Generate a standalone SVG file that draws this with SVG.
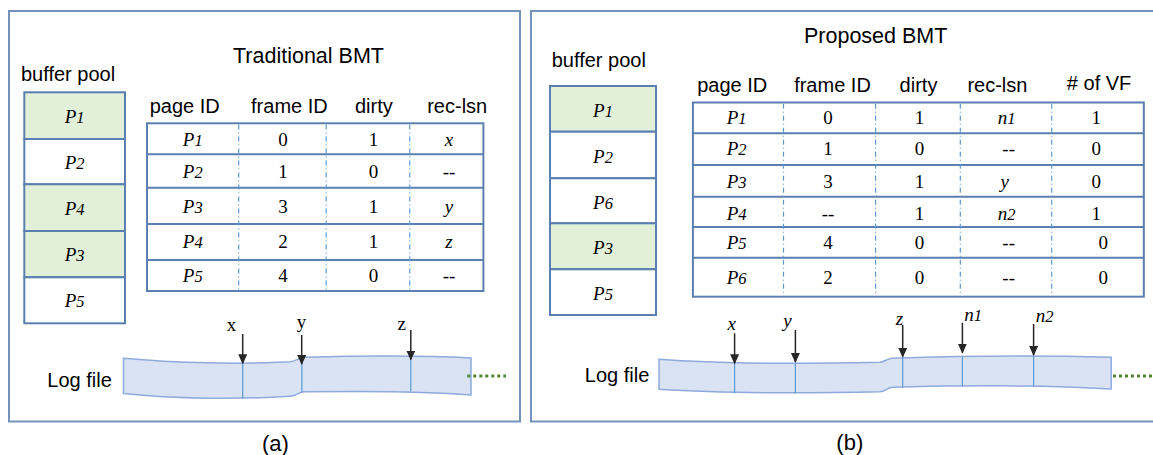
<svg xmlns="http://www.w3.org/2000/svg" width="1153" height="455" viewBox="0 0 1153 455">
<style>
.frame{fill:#fff;stroke:#7393bd;stroke-width:2}
.sans{font-family:"Liberation Sans",Arial,sans-serif;font-size:20px;fill:#000}
.title{font-family:"Liberation Sans",Arial,sans-serif;font-size:21.5px;fill:#000;text-anchor:middle}
.cap{font-family:"Liberation Sans",Arial,sans-serif;font-size:22px;fill:#000;text-anchor:middle}
.hd{font-family:"Liberation Sans",Arial,sans-serif;font-size:20px;fill:#000;text-anchor:middle}
.c{font-family:"Liberation Serif","Times New Roman",serif;font-size:19px;fill:#000;text-anchor:middle}
.i{font-style:italic}
.sub{font-size:16.5px}
.buf{stroke:#5a7fb0;stroke-width:2}
.g{fill:#e2efd9}
.w{fill:#fff}
.tb{fill:none;stroke:#5a7fb0;stroke-width:2}
.rl{stroke:#5a7fb0;stroke-width:2}
.dv{stroke:#5b9bd5;stroke-width:1.2;stroke-dasharray:5 3 1 3}
.band{fill:#dae3f3;stroke:#8faadc;stroke-width:1.5}
.bl{stroke:#5b9bd5;stroke-width:1.2}
.arr{stroke:#262626;stroke-width:1.5;fill:none;marker-end:url(#ah)}
.dot{stroke:#548235;stroke-width:3;stroke-dasharray:3 3}
</style>
<defs>
<marker id="ah" markerUnits="userSpaceOnUse" markerWidth="10" markerHeight="10" refX="9" refY="4.5" orient="auto">
<path d="M0,0 L10,4.5 L0,9 z" fill="#262626"/>
</marker>
</defs>

<!-- Panel (a) -->
<g id="panel-a">
<rect class="frame" x="9" y="11" width="511" height="410.5"/>
<text class="title" x="308.5" y="63">Traditional BMT</text>
<text class="sans" x="21" y="80.5">buffer pool</text>
<text class="cap" x="275.5" y="451">(a)</text>
<text class="sans" x="47.3" y="387">Log file</text>
</g>

<g id="buffer-a">
<rect class="buf g" x="24.3" y="92.3" width="100.7" height="46.7"/>
<rect class="buf w" x="24.3" y="139" width="100.7" height="45.3"/>
<rect class="buf g" x="24.3" y="184.3" width="100.7" height="46.7"/>
<rect class="buf g" x="24.3" y="231" width="100.7" height="46.3"/>
<rect class="buf w" x="24.3" y="277.3" width="100.7" height="46"/>
<text class="c i" x="74.6" y="123.3">P<tspan class="sub">1</tspan></text>
<text class="c i" x="74.6" y="169">P<tspan class="sub">2</tspan></text>
<text class="c i" x="74.6" y="215">P<tspan class="sub">4</tspan></text>
<text class="c i" x="74.6" y="261">P<tspan class="sub">3</tspan></text>
<text class="c i" x="74.6" y="307">P<tspan class="sub">5</tspan></text>
</g>

<g id="table-a">
<text class="hd" x="184.7" y="113.3">page ID</text>
<text class="hd" x="289.4" y="113.3">frame ID</text>
<text class="hd" x="373.9" y="113.3">dirty</text>
<text class="hd" x="457.2" y="113.3">rec-lsn</text>
<rect class="tb" x="147" y="123.3" width="336.4" height="167.7"/>
<line class="rl" x1="147" y1="154.3" x2="483.4" y2="154.3"/>
<line class="rl" x1="147" y1="187.7" x2="483.4" y2="187.7"/>
<line class="rl" x1="147" y1="224" x2="483.4" y2="224"/>
<line class="rl" x1="147" y1="260" x2="483.4" y2="260"/>
<line class="dv" x1="238.7" y1="124.5" x2="238.7" y2="290"/>
<line class="dv" x1="326.2" y1="124.5" x2="326.2" y2="290"/>
<line class="dv" x1="409.7" y1="124.5" x2="409.7" y2="290"/>
<text class="c i" x="192.7" y="146">P<tspan class="sub">1</tspan></text>
<text class="c" x="283" y="146">0</text>
<text class="c" x="373.6" y="146">1</text>
<text class="c i" x="449" y="146">x</text>
<text class="c i" x="192.7" y="177.5">P<tspan class="sub">2</tspan></text>
<text class="c" x="283" y="177.5">1</text>
<text class="c" x="373.6" y="177.5">0</text>
<text class="c" x="449" y="177.5">--</text>
<text class="c i" x="192.7" y="213">P<tspan class="sub">3</tspan></text>
<text class="c" x="283" y="213">3</text>
<text class="c" x="373.6" y="213">1</text>
<text class="c i" x="449" y="213">y</text>
<text class="c i" x="192.7" y="248">P<tspan class="sub">4</tspan></text>
<text class="c" x="283" y="248">2</text>
<text class="c" x="373.6" y="248">1</text>
<text class="c i" x="449" y="248">z</text>
<text class="c i" x="192.7" y="282">P<tspan class="sub">5</tspan></text>
<text class="c" x="283" y="282">4</text>
<text class="c" x="373.6" y="282">0</text>
<text class="c" x="449" y="282">--</text>
</g>

<g id="log-a">
<path class="band" d="M123.5,358.3 C175,363 240,364.5 290,361.8 C296,361.3 298,357.8 304,357.3 C360,355.8 430,355.8 471,358 L471,395 C430,391.5 360,391 304,391.8 C298,392.2 296,396 290,396.3 C240,399.5 175,399 123.5,393.5 Z"/>
<line class="bl" x1="242.7" y1="363.5" x2="242.7" y2="398.5"/>
<line class="bl" x1="301.9" y1="357.6" x2="301.9" y2="392.2"/>
<line class="bl" x1="410.8" y1="356.2" x2="410.8" y2="391.3"/>
<text class="c" x="231.6" y="331">x</text>
<text class="c" x="301.6" y="327.5">y</text>
<text class="c" x="401.6" y="330">z</text>
</g>

<!-- Panel (b) -->
<g id="panel-b">
<rect class="frame" x="531" y="11" width="640" height="410.5"/>
<text class="title" x="875.7" y="43.3">Proposed BMT</text>
<text class="sans" x="551.7" y="66.7">buffer pool</text>
<text class="cap" x="849.8" y="450">(b)</text>
<text class="sans" x="584.8" y="382">Log file</text>
</g>

<g id="buffer-b">
<rect class="buf g" x="550" y="86" width="106" height="45.7"/>
<rect class="buf w" x="550" y="131.7" width="106" height="46.6"/>
<rect class="buf w" x="550" y="178.3" width="106" height="45"/>
<rect class="buf g" x="550" y="223.3" width="106" height="46"/>
<rect class="buf w" x="550" y="269.3" width="106" height="45.7"/>
<text class="c i" x="603" y="116.7">P<tspan class="sub">1</tspan></text>
<text class="c i" x="603" y="162.5">P<tspan class="sub">2</tspan></text>
<text class="c i" x="603" y="208.5">P<tspan class="sub">6</tspan></text>
<text class="c i" x="603" y="253.5">P<tspan class="sub">3</tspan></text>
<text class="c i" x="603" y="299.5">P<tspan class="sub">5</tspan></text>
</g>

<g id="table-b">
<text class="hd" x="732.2" y="91.7">page ID</text>
<text class="hd" x="832.5" y="91.7">frame ID</text>
<text class="hd" x="918.5" y="91.7">dirty</text>
<text class="hd" x="997.4" y="91.7">rec-lsn</text>
<text class="hd" x="1099.1" y="90">&#35; of VF</text>
<rect class="tb" x="692.9" y="102.5" width="450.9" height="194.2"/>
<line class="rl" x1="692.9" y1="133.3" x2="1143.8" y2="133.3"/>
<line class="rl" x1="692.9" y1="165" x2="1143.8" y2="165"/>
<line class="rl" x1="692.9" y1="196.7" x2="1143.8" y2="196.7"/>
<line class="rl" x1="692.9" y1="227" x2="1143.8" y2="227"/>
<line class="rl" x1="692.9" y1="257.7" x2="1143.8" y2="257.7"/>
<line class="dv" x1="783.5" y1="103.7" x2="783.5" y2="295.5"/>
<line class="dv" x1="875.6" y1="103.7" x2="875.6" y2="295.5"/>
<line class="dv" x1="960.3" y1="103.7" x2="960.3" y2="295.5"/>
<line class="dv" x1="1051.7" y1="103.7" x2="1051.7" y2="295.5"/>
<text class="c i" x="736.6" y="123.5">P<tspan class="sub">1</tspan></text>
<text class="c" x="828" y="123.5">0</text>
<text class="c" x="919.4" y="123.5">1</text>
<text class="c i" x="1006.7" y="123.5">n<tspan class="sub">1</tspan></text>
<text class="c" x="1096.2" y="123.5">1</text>
<text class="c i" x="736.6" y="154.5">P<tspan class="sub">2</tspan></text>
<text class="c" x="828" y="154.5">1</text>
<text class="c" x="919.4" y="154.5">0</text>
<text class="c" x="1008.7" y="154.5">--</text>
<text class="c" x="1096.2" y="154.5">0</text>
<text class="c i" x="736.6" y="188.3">P<tspan class="sub">3</tspan></text>
<text class="c" x="828" y="188.3">3</text>
<text class="c" x="919.4" y="188.3">1</text>
<text class="c i" x="1004.8" y="188.3">y</text>
<text class="c" x="1096.2" y="188.3">0</text>
<text class="c i" x="736.6" y="220">P<tspan class="sub">4</tspan></text>
<text class="c" x="828" y="220">--</text>
<text class="c" x="919.4" y="220">1</text>
<text class="c i" x="1006.7" y="220">n<tspan class="sub">2</tspan></text>
<text class="c" x="1096.2" y="220">1</text>
<text class="c i" x="736.6" y="248.5">P<tspan class="sub">5</tspan></text>
<text class="c" x="828" y="248.5">4</text>
<text class="c" x="919.4" y="248.5">0</text>
<text class="c" x="1008.7" y="248.5">--</text>
<text class="c" x="1103.3" y="248.5">0</text>
<text class="c i" x="736.6" y="284.3">P<tspan class="sub">6</tspan></text>
<text class="c" x="828" y="284.3">2</text>
<text class="c" x="919.4" y="284.3">0</text>
<text class="c" x="1008.7" y="284.3">--</text>
<text class="c" x="1103.3" y="284.3">0</text>
</g>

<g id="log-b">
<path class="band" d="M659,359.3 C720,364 800,364 880,362.3 C885,361.8 887,358.6 892,358.2 C960,356 1050,355.5 1111.2,357.3 L1111.2,389 C1050,385 960,385.5 892,387.3 C887,387.8 885,391.5 880,391.8 C800,393.5 720,393.2 659,389.3 Z"/>
<line class="bl" x1="734.6" y1="363.3" x2="734.6" y2="393.2"/>
<line class="bl" x1="795.4" y1="363.5" x2="795.4" y2="393.2"/>
<line class="bl" x1="902.7" y1="357.5" x2="902.7" y2="387.5"/>
<line class="bl" x1="962.4" y1="356.5" x2="962.4" y2="386.3"/>
<line class="bl" x1="1033.6" y1="356" x2="1033.6" y2="386"/>
<text class="c i" x="731.6" y="330">x</text>
<text class="c i" x="787.5" y="327">y</text>
<text class="c i" x="899.4" y="325">z</text>
<text class="c i" x="973" y="320.7">n<tspan class="sub">1</tspan></text>
<text class="c i" x="1044.5" y="321.7">n<tspan class="sub">2</tspan></text>
</g>

<g id="connectors">
<line class="arr" x1="242.7" y1="334" x2="242.7" y2="363.3"/>
<line class="arr" x1="301.7" y1="335" x2="301.7" y2="364"/>
<line class="arr" x1="410.8" y1="330" x2="410.8" y2="359.5"/>
<line class="arr" x1="734.6" y1="333.3" x2="734.6" y2="363.3"/>
<line class="arr" x1="795.4" y1="330" x2="795.4" y2="362"/>
<line class="arr" x1="902.7" y1="325" x2="902.7" y2="356.7"/>
<line class="arr" x1="962.4" y1="322.7" x2="962.4" y2="352.7"/>
<line class="arr" x1="1033.6" y1="324" x2="1033.6" y2="355"/>
<line class="dot" x1="467.3" y1="376" x2="506" y2="376"/>
<line class="dot" x1="1113" y1="376" x2="1153" y2="376"/>
</g>
</svg>
